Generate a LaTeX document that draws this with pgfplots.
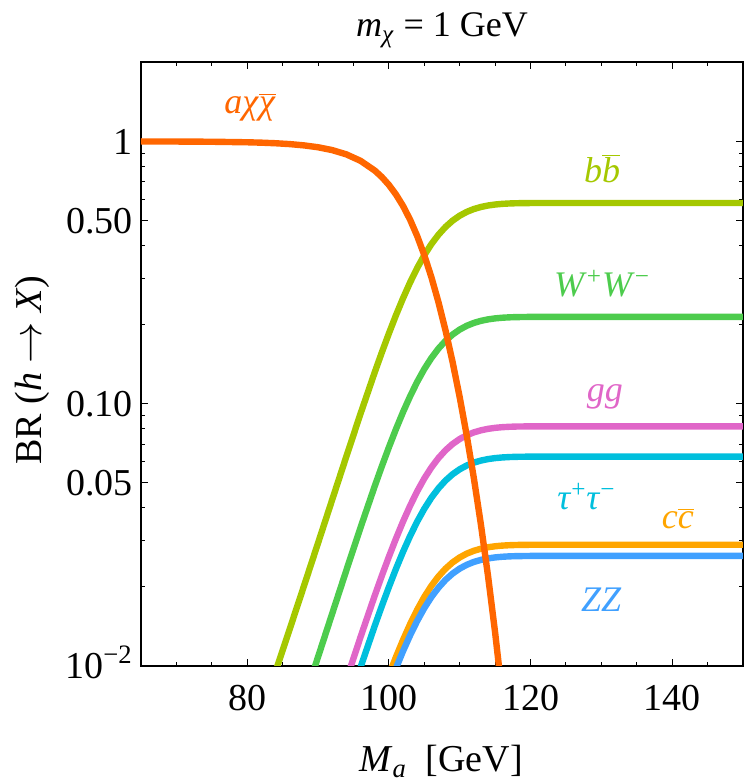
\documentclass[border=0pt]{standalone}
\usepackage{fontspec}
\setmainfont{Liberation Serif}
\usepackage{pgfplots}
\pgfplotsset{compat=1.18}

\definecolor{cAchi}{HTML}{FF6600}
\definecolor{cBB}{HTML}{A5C800}
\definecolor{cWW}{HTML}{4DCC4D}
\definecolor{cGG}{HTML}{E066C8}
\definecolor{cTT}{HTML}{00BFDD}
\definecolor{cCC}{HTML}{FFA500}
\definecolor{cZZ}{HTML}{40A0FF}

\newcommand{\lbl}{\fontsize{19bp}{22bp}\selectfont}
\newcommand{\clbl}{\fontsize{18bp}{21bp}\selectfont}

\begin{document}
\begin{tikzpicture}
\path[use as bounding box] (-70.5bp,-57.25bp) rectangle (304.5bp,332.75bp);
\begin{axis}[
  anchor=south west, at={(0,0)},
  scale only axis, width=301bp, height=301.5bp,
  xmin=65, xmax=150,
  ymode=log, ymin=0.01, ymax=2,
  xtick={80,100,120,140}, xticklabels={80,100,120,140},
  minor xtick={70,75,85,90,95,105,110,115,125,130,135,145},
  ytick={0.01,0.05,0.1,0.5,1},
  yticklabels={10\textsuperscript{−2},0.05,0.10,0.50,1},
  minor ytick={0.02,0.03,0.04,0.06,0.07,0.08,0.09,0.2,0.3,0.4,0.6,0.7,0.8,0.9,2},
  tick align=inside,
  major tick length=3.5bp, minor tick length=2bp,
  every tick/.style={black, line width=0.6bp},
  every minor tick/.style={black, line width=0.5bp},
  axis line style={line width=1bp},
  ticklabel style={font=\lbl},
  xticklabel style={anchor=base, yshift=-22.25bp},
  yticklabel style={anchor=base east, inner sep=0pt, xshift=-4bp, yshift=-6.4bp},
  every axis plot/.append style={line width=3.2bp, line join=round, line cap=round},
]

% h -> b bbar
\addplot[cBB] coordinates {
(80,0.004582)(82,0.006571)(84,0.009487)(86,0.013776)(88,0.020079)(90,0.029333)
(92,0.04294)(94,0.06282)(96,0.09143)(98,0.13143)(99,0.15641)(100,0.18495)
(101,0.21699)(102,0.25209)(103,0.28968)(104,0.32876)(105,0.36785)(106,0.40540)
(107,0.44027)(108,0.47151)(109,0.49834)(110,0.52052)(111,0.53820)(112,0.55182)
(113,0.56196)(114,0.56922)(115,0.57422)(116,0.57751)(117,0.57955)(118,0.58074)
(120,0.58174)(122,0.58194)(130,0.582)(150,0.582)};

% h -> W+ W-
\addplot[cWW] coordinates {
(84,0.003488)(86,0.005065)(88,0.007383)(90,0.010786)(92,0.015789)(94,0.023099)
(96,0.033619)(98,0.048328)(99,0.057510)(100,0.068005)(101,0.079788)(102,0.092694)
(103,0.10652)(104,0.12088)(105,0.13526)(106,0.14907)(107,0.16189)(108,0.17337)
(109,0.18324)(110,0.19139)(111,0.19789)(112,0.20290)(113,0.20663)(114,0.20930)
(115,0.21114)(116,0.21235)(117,0.21310)(118,0.21354)(120,0.21391)(122,0.21398)
(130,0.214)(150,0.214)};

% h -> g g
\addplot[cGG] coordinates {
(90,0.004123)(92,0.006035)(94,0.008830)(96,0.012851)(98,0.018473)(99,0.021983)
(100,0.025994)(101,0.030498)(102,0.035432)(103,0.040715)(104,0.046207)(105,0.051701)
(106,0.056979)(107,0.061880)(108,0.066271)(109,0.070041)(110,0.073159)(111,0.075644)
(112,0.077558)(113,0.078983)(114,0.080004)(115,0.080706)(116,0.081169)(117,0.081456)
(118,0.081624)(120,0.081764)(122,0.08179)(130,0.0818)(150,0.0818)};

% h -> tau+ tau-
\addplot[cTT] coordinates {
(90,0.003160)(92,0.004626)(94,0.006768)(96,0.009850)(98,0.014160)(99,0.016850)
(100,0.019925)(101,0.023377)(102,0.027159)(103,0.031208)(104,0.035418)(105,0.039629)
(106,0.043675)(107,0.047431)(108,0.050797)(109,0.053687)(110,0.056076)(111,0.057981)
(112,0.059448)(113,0.060541)(114,0.061323)(115,0.061862)(116,0.062216)(117,0.062436)
(118,0.062565)(120,0.062672)(122,0.062694)(130,0.0627)(150,0.0627)};

% h -> c cbar
\addplot[cCC] coordinates {
(94,0.003119)(96,0.004540)(98,0.006527)(99,0.007767)(100,0.009184)(101,0.010775)
(102,0.012518)(103,0.014385)(104,0.016325)(105,0.018266)(106,0.020131)(107,0.021862)
(108,0.023414)(109,0.024746)(110,0.025847)(111,0.026725)(112,0.027401)(113,0.027905)
(114,0.028265)(115,0.028514)(116,0.028677)(117,0.028778)(118,0.028838)(120,0.028887)
(122,0.028897)(130,0.0289)(150,0.0289)};

% h -> Z Z
\addplot[cZZ] coordinates {
(94,0.002828)(96,0.004116)(98,0.005917)(99,0.007041)(100,0.008326)(101,0.009768)
(102,0.011349)(103,0.013041)(104,0.014800)(105,0.016559)(106,0.018250)(107,0.019820)
(108,0.021226)(109,0.022434)(110,0.023432)(111,0.024228)(112,0.024841)(113,0.025298)
(114,0.025625)(115,0.025850)(116,0.025998)(117,0.026090)(118,0.026143)(120,0.026188)
(122,0.026197)(130,0.0262)(150,0.0262)};

% h -> a chi chibar
\addplot[cAchi] coordinates {
(65,0.99933)(70,0.99855)(75,0.99670)(80,0.99213)(82,0.98871)(84,0.98370)
(86,0.97633)(88,0.96550)(90,0.94960)(92,0.92622)(94,0.89206)(96,0.84290)
(98,0.77417)(99,0.73126)(100,0.68222)(101,0.62716)(102,0.56685)(103,0.50226)
(104,0.43512)(105,0.36796)(106,0.30343)(107,0.24352)(108,0.18984)(109,0.14375)
(110,0.10564)(111,0.07526)(112,0.05186)(113,0.03444)(114,0.02196)(115,0.01337)
(116,0.00772)(117,0.00421)};

% channel labels
\node[text=cAchi, font=\clbl] at (axis cs:80.4,1.35) {\textit{aχ}$\overline{\mbox{\textit{χ}}}$};
\node[text=cBB,   font=\clbl] at (axis cs:130.1,0.788) {\textit{b}$\overline{\mbox{\textit{b}}}$};
\node[text=cWW,   font=\clbl] at (axis cs:130.1,0.286) {\textit{W}\textsuperscript{+}\textit{W}\textsuperscript{−}};
\node[text=cGG,   font=\clbl] at (axis cs:130.5,0.1062) {\textit{gg}};
\node[text=cTT,   font=\clbl] at (axis cs:127.9,0.0442) {\textit{τ}\textsuperscript{+}\textit{τ}\textsuperscript{−}};
\node[text=cCC,   font=\clbl] at (axis cs:140.8,0.0364) {\textit{c}$\overline{\mbox{\textit{c}}}$};
\node[text=cZZ,   font=\clbl] at (axis cs:130.0,0.0178) {\textit{ZZ}};
\end{axis}

% title and axis labels
\node[anchor=base, font=\fontsize{18bp}{21bp}\selectfont] at (150.5bp,314.25bp)
  {\textit{m}\textsubscript{\textit{χ}} = 1 GeV};
\node[anchor=base, font=\lbl] at (150bp,-52.75bp)
  {\textit{M}\textsubscript{\textit{a}}\enspace[GeV]};
\node[rotate=90, inner sep=0pt, font=\lbl] at (-54.5bp,147.75bp)
  {BR (\textit{h} $\to$ \textit{X})};
\end{tikzpicture}
\end{document}
